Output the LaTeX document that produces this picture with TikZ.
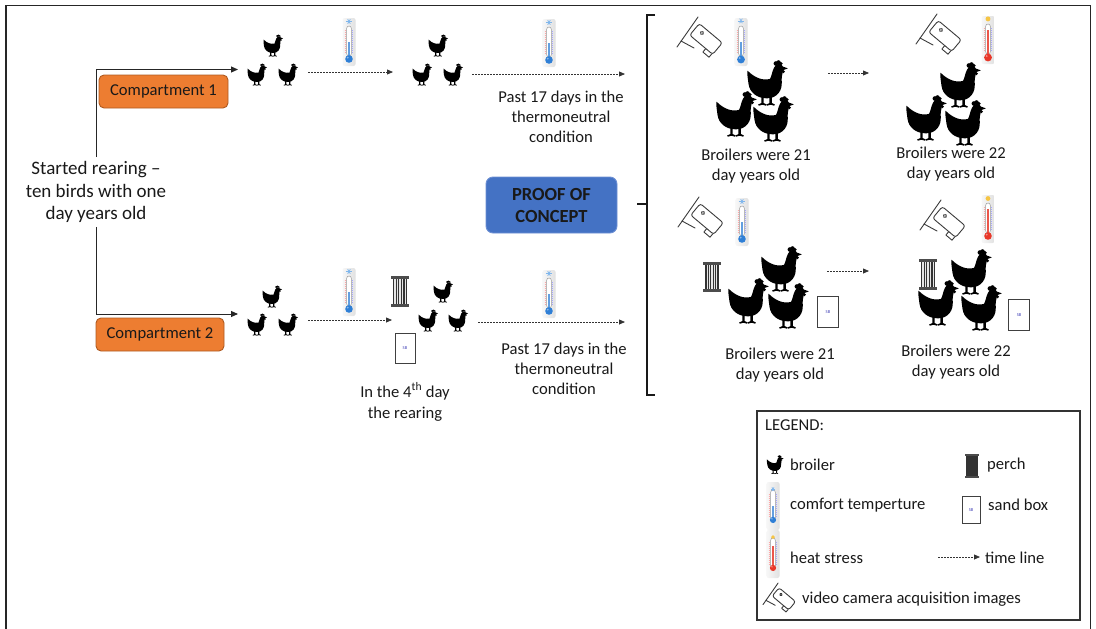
\documentclass[tikz,border=0pt]{standalone}
\usepackage{fontspec}
\setmainfont{Carlito}
\usetikzlibrary{arrows.meta}

\definecolor{comporange}{HTML}{ED7D31}
\definecolor{compedge}{HTML}{AE5A21}
\definecolor{proofblue}{HTML}{4472C4}
\definecolor{proofedge}{HTML}{6C8FD3}
\definecolor{mercblue}{HTML}{2F7FD6}
\definecolor{mercred}{HTML}{E8382A}
\definecolor{sunyellow}{HTML}{F6C544}
\definecolor{frostblue}{HTML}{7FB6EC}
\definecolor{inkgray}{HTML}{3A3A3A}

\tikzset{
  txt/.style={font=\fontsize{16.6}{20}\selectfont, align=center, inner sep=0pt, text=black!90},
  legtxt/.style={font=\fontsize{16.6}{20}\selectfont, anchor=west, inner sep=0pt, text=black!90},
  compbox/.style={draw=compedge, fill=comporange, rounded corners=5pt, line width=0.9pt,
    minimum width=129pt, minimum height=33pt, inner sep=0pt,
    font=\fontsize{16.6}{20}\selectfont, text=black!90},
  proofbox/.style={draw=proofedge, fill=proofblue, rounded corners=7pt, line width=0.9pt,
    minimum width=131pt, minimum height=56pt, inner sep=0pt, align=center,
    font=\bfseries\fontsize{18.5}{22}\selectfont, text=black!90},
  flow/.style={-{Triangle[length=7pt,width=6pt]}, line width=0.9pt, black!85},
  timeline/.style={-{Triangle[length=6pt,width=5pt]}, line width=0.75pt,
    dash pattern=on 1.8pt off 1.2pt, black!80},
  % broiler silhouette, facing right
  chick/.pic={
    \fill (-9.5,-6.5)
      .. controls (-6,-3) and (-2,-1.5) .. (1.5,-2.5)
      .. controls (2.5,-4.5) and (2.5,-6.5) .. (3.5,-8)
      .. controls (4,-10) and (7,-10.5) .. (7.8,-8.5)
      -- (10.2,-7.6) -- (7.9,-6.8)
      .. controls (7.5,-5) and (7,-3) .. (7.2,-1)
      .. controls (7.5,3) and (5,7) .. (0,7)
      .. controls (-5,7) and (-8.5,4) .. (-9,0)
      .. controls (-9.3,-2.5) and (-9.8,-4.5) .. (-9.5,-6.5) -- cycle;
    \fill (4.3,-10) circle (1.1) (5.6,-10.5) circle (1.1) (6.8,-9.9) circle (0.9);
    \fill (8,-6) circle (0.8);
    \foreach \lx in {-2.2,1.8}{
      \fill (\lx-0.6,6) -- (\lx+0.6,6) -- (\lx+0.6,9.3) -- (\lx+2,10) -- (\lx+1.7,10.6)
        -- (\lx,10.1) -- (\lx-1.8,10.6) -- (\lx-2.1,10) -- (\lx-0.6,9.3) -- cycle;
    }
  },
  % thermometer parts shared by both readings
  thermobase/.pic={
    \shade[left color=black!3, right color=black!12, rounded corners=2pt] (-6.5,-24) rectangle (6.5,24);
    \filldraw[fill=white, draw=black!40, line width=0.5pt, rounded corners=2.2pt] (-2.3,-16) rectangle (2.3,14);
    \foreach \ty in {-12,-10,...,10}{
      \draw[red!35, line width=0.3pt] (-4.4,\ty) -- (-3.3,\ty);
      \draw[blue!35, line width=0.3pt] (3.3,\ty) -- (4.4,\ty);
    }
  },
  coldthermo/.pic={
    \pic (base) {thermobase};
    \fill[mercblue!75] (-1,0) rectangle (1,15);
    \fill[mercblue] (0,17) circle (3.8);
    \fill[white, opacity=0.45] (-1.3,15.6) circle (1);
    \begin{scope}[shift={(0,-20.5)}]
      \foreach \a in {0,60,120}{\draw[frostblue, line width=0.7pt] (\a:2.6) -- (\a+180:2.6);}
    \end{scope}
  },
  hotthermo/.pic={
    \pic (base) {thermobase};
    \fill[mercred!85] (-1,-10) rectangle (1,15);
    \fill[mercred] (0,17) circle (3.8);
    \fill[white, opacity=0.45] (-1.3,15.6) circle (1);
    \fill[sunyellow] (0,-20.5) circle (2.4);
  },
  % wall-mounted surveillance camera, origin at the top-left corner
  camera/.pic={
    \begin{scope}[draw=inkgray, line width=0.9pt, line join=round, line cap=round]
      \draw (0,30) -- (21,0);
      \draw (4,24) -- (17,31);
      \begin{scope}[shift={(29,22)}, rotate=-40]
        \draw[rounded corners=2.5pt] (-15,-7.5) -- (15,-7.5) -- (15,7.5) -- (-15,7.5) -- cycle;
        \draw (-7,-2) circle (1.7);
        \draw (6,7.5) -- (6,12) -- (14,12) -- (14,7.5);
      \end{scope}
    \end{scope}
  },
  perch/.pic={
    \fill[black!10] (-7.2,-12.5) rectangle (7.2,12.5);
    \foreach \px in {-6.3,-3.8,-1.3,1.3,3.8,6.3}{
      \fill[black!80] (\px-0.7,-12.5) rectangle (\px+0.7,12.5);
    }
    \fill[black!70] (-9,-15.5) rectangle (9,-12.5);
    \fill[black!70] (-9,12.5) rectangle (9,15.5);
  },
  sandbox/.pic={
    \filldraw[fill=white, draw=black!75, line width=0.8pt] (-10,-15) rectangle (10,15);
    \node[font=\fontsize{4.5}{4.5}\selectfont, text=blue!45!gray, inner sep=0pt] (lbl) at (0,0) {SB};
  },
}

\begin{document}
\begin{tikzpicture}[x=1pt, y=-1pt]
\useasboundingbox (0,0) rectangle (1096,629);

% outer frame
\draw[black!85, line width=1.3pt] (6,629) -- (6,5.3) -- (1090.5,5.3) -- (1090.5,629);

% ---------- start and compartments ----------
\node[txt, font=\fontsize{19}{22.5}\selectfont, inner ysep=4pt] (start) at (96,192)
  {Started rearing –\\ten birds with one\\day years old};
\node[compbox] (comp1) at (163.5,91.5) {Compartment 1};
\node[compbox, minimum width=128pt] (comp2) at (160,334.5) {Compartment 2};
\coordinate (c1in) at (238,69.5);
\coordinate (c2in) at (238,314);
\draw[flow] (start.north) |- (c1in);
\draw[flow] (start.south) |- (c2in);

% ---------- compartment 1 ----------
\pic (k1a) at (273,46) {chick};
\pic (k1b) at (257,75) {chick};
\pic (k1c) at (288,75) {chick};
\pic (t1a) at (349,42) {coldthermo};
\coordinate (d1s) at (308,72);
\coordinate (d1e) at (393,72);
\draw[timeline] (d1s) -- (d1e);
\pic (k2a) at (438,46) {chick};
\pic (k2b) at (422,75) {chick};
\pic (k2c) at (453,75) {chick};
\pic (t1b) at (549,43) {coldthermo};
\coordinate (d2s) at (472,74);
\coordinate (d2e) at (625,74);
\draw[timeline] (d2s) -- (d2e);
\node[txt] (past1) at (561,117) {Past 17 days in the\\thermoneutral\\condition};

% ---------- compartment 2 ----------
\pic (k3a) at (272,297) {chick};
\pic (k3b) at (257,325) {chick};
\pic (k3c) at (288,325) {chick};
\pic (t2a) at (349,292) {coldthermo};
\coordinate (d3s) at (308,320);
\coordinate (d3e) at (392,320);
\draw[timeline] (d3s) -- (d3e);
\pic (p1) at (400,291) {perch};
\pic (s1) at (405,348) {sandbox};
\pic (k4a) at (443,292) {chick};
\pic (k4b) at (428,321) {chick};
\pic (k4c) at (458,321) {chick};
\node[txt, font=\fontsize{16.6}{21}\selectfont] (day4) at (405,402) {In the 4\textsuperscript{th} day\\the rearing};
\pic (t2b) at (549,294) {coldthermo};
\coordinate (d4s) at (478,322);
\coordinate (d4e) at (625,322);
\draw[timeline] (d4s) -- (d4e);
\node[txt] (past2) at (564,369) {Past 17 days in the\\thermoneutral\\condition};

% ---------- proof of concept ----------
\node[proofbox] (proof) at (551.5,205) {PROOF OF\\CONCEPT};
\draw[line width=2.4pt, black!90, line join=miter] (655,15) -- (647,15) -- (647,395) -- (655,395);
\draw[line width=2.4pt, black!90] (647,204) -- (637,204);

% upper pair: comfort then heat stress
\pic (cam1) at (677,17) {camera};
\pic[scale=1.03] (t3a) at (741,42) {coldthermo};
\pic[scale=2.05] (b1a) at (767,84) {chick};
\pic[scale=2.05] (b1b) at (736,115) {chick};
\pic[scale=2.05] (b1c) at (773,120) {chick};
\node[txt] (age1) at (756,166) {Broilers were 21\\day years old};
\coordinate (d5s) at (828,73);
\coordinate (d5e) at (869,73);
\draw[timeline] (d5s) -- (d5e);
\pic (cam2) at (916,14) {camera};
\pic[scale=1.03] (t3b) at (988,40) {hotthermo};
\pic[scale=2.05] (b2a) at (960,86) {chick};
\pic[scale=2.05] (b2b) at (926,119) {chick};
\pic[scale=2.05] (b2c) at (965,124) {chick};
\node[txt] (age2) at (951,164) {Broilers were 22\\day years old};

% lower pair: enriched pen, comfort then heat stress
\pic (cam3) at (678,197) {camera};
\pic (t4a) at (742,222) {coldthermo};
\pic[scale=0.95] (p2) at (712,277) {perch};
\pic[scale=2.05] (b3a) at (781,270) {chick};
\pic[scale=2.05] (b3b) at (748,302) {chick};
\pic[scale=2.05] (b3c) at (788,307) {chick};
\pic[scale=1.05] (s2) at (828,312) {sandbox};
\node[txt] (age3) at (780,365) {Broilers were 21\\day years old};
\coordinate (d6s) at (827,271);
\coordinate (d6e) at (869,271);
\draw[timeline] (d6s) -- (d6e);
\pic (cam4) at (920,200) {camera};
\pic (t4b) at (988,219) {hotthermo};
\pic (p3) at (928,274) {perch};
\pic[scale=2.05] (b4a) at (971,273) {chick};
\pic[scale=2.05] (b4b) at (938,304) {chick};
\pic[scale=2.05] (b4c) at (981,309) {chick};
\pic[scale=1.05] (s3) at (1019,315) {sandbox};
\node[txt] (age4) at (956,362) {Broilers were 22\\day years old};

% ---------- legend ----------
\draw[black!80, line width=1.1pt] (757,411) rectangle (1080,620);
\node[legtxt] (legtitle) at (765,425) {LEGEND:};
\pic[scale=0.85] (lk) at (775,465) {chick};
\node[legtxt] (lkt) at (790,465) {broiler};
\pic[scale=0.8] (lp) at (972,466) {perch};
\node[legtxt] (lpt) at (987,465) {perch};
\pic[scale=0.82] (lc) at (773,506) {coldthermo};
\node[legtxt] (lct) at (790,505) {comfort temperture};
\pic[scale=0.9] (ls) at (971,510) {sandbox};
\node[legtxt] (lst) at (988,505) {sand box};
\pic[scale=0.82] (lh) at (773,554) {hotthermo};
\node[legtxt] (lht) at (790,558) {heat stress};
\coordinate (lds) at (938,557);
\coordinate (lde) at (980,557);
\draw[timeline] (lds) -- (lde);
\node[legtxt] (ldt) at (985,558) {time line};
\pic[scale=0.72] (lv) at (763,583) {camera};
\node[legtxt] (lvt) at (802,599) {video camera acquisition images};
\end{tikzpicture}
\end{document}
